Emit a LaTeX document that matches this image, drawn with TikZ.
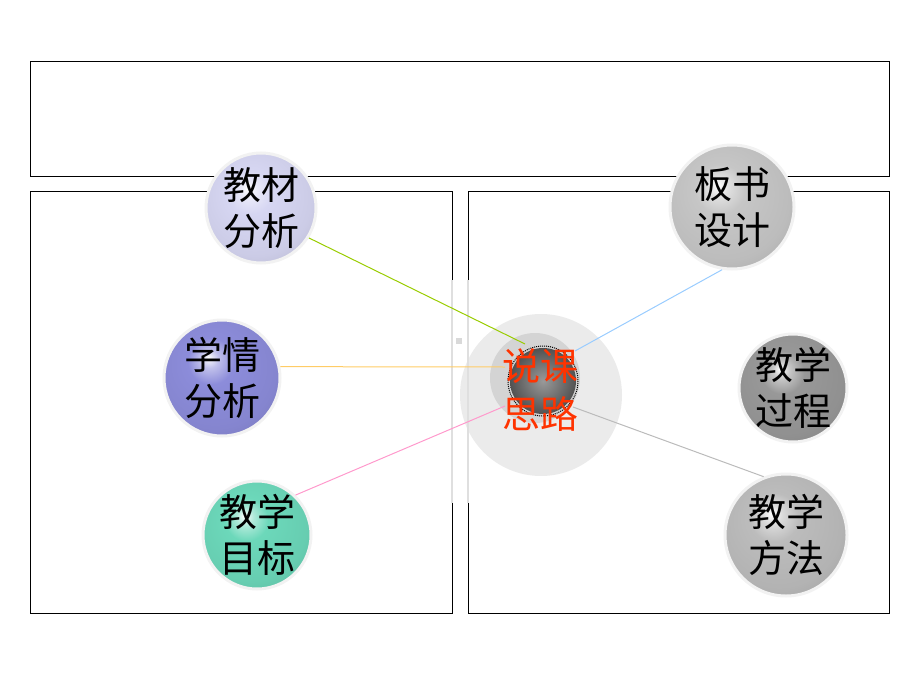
\documentclass[tikz,border=0pt]{standalone}
\usepackage{fontspec}
\newfontfamily\cjk{Noto Sans CJK SC}
\definecolor{balllav}{RGB}{214,214,242}
\definecolor{ballblue}{RGB}{140,140,218}
\definecolor{ballteal}{RGB}{108,216,186}
\definecolor{ballsilver}{RGB}{198,198,198}
\definecolor{balldark}{RGB}{152,152,152}
\definecolor{ballgrey}{RGB}{188,188,188}
\definecolor{hubred}{RGB}{255,51,0}
\definecolor{lgreen}{RGB}{153,204,0}
\definecolor{lorange}{RGB}{255,204,102}
\definecolor{lpink}{RGB}{255,153,204}
\definecolor{lblue}{RGB}{153,204,255}
\definecolor{lgrey}{RGB}{187,187,187}
\colorlet{gloss}{gray}
\pgfdeclareradialshading[gloss]{glossball}{\pgfpoint{-6bp}{9bp}}{%
  color(0bp)=(white); color(4bp)=(gloss!55!white); color(10bp)=(gloss);
  color(26bp)=(gloss!95!black); color(36bp)=(gloss!86!black); color(50bp)=(gloss!86!black)}

\begin{document}
\begin{tikzpicture}[x=1pt,y=-1pt,
  glosscol/.code={\colorlet{gloss}{#1}},
  ballnode/.style={circle, draw=black!5, line width=3, shading=glossball, glosscol=#1, inner sep=0},
  balltext/.style={font=\cjk\fontsize{38}{46}\selectfont, align=center, text=black},
  frame/.style={draw=black, line width=0.8}]
\useasboundingbox (0,0) rectangle (920,690);

% Hub backdrop
\fill[black!8] (541,395) circle (81);

% Frames
\draw[frame] (30,61) rectangle (889,176);
\draw[frame] (30,191) rectangle (452,613);
\draw[frame] (468,191) rectangle (889,613);
\draw[gray!25, line width=1.4] (452,280) -- (452,503);
\draw[gray!25, line width=1.4] (468,280) -- (468,503);
\fill[gray!30] (456,338) rectangle (462,344);

% Hub
\fill[black!17] (535,378) circle (45);

% Topic balls
\node[ballnode=balllav, minimum size=110, label={[balltext]center:教材\\分析}] (jcfx) at (261,208) {};
\node[ballnode=ballblue, minimum size=116, label={[balltext]center:学情\\分析}] (xqfx) at (222,378) {};
\node[ballnode=ballteal, minimum size=108, label={[balltext]center:教学\\目标}] (jxmb) at (257,535) {};
\node[ballnode=ballsilver, minimum size=124, label={[balltext]center:板书\\设计}] (bssj) at (732,207) {};
\node[ballnode=balldark, minimum size=108, label={[balltext]center:教学\\过程}] (jxgc) at (793,388) {};
\node[ballnode=ballgrey, minimum size=122, label={[balltext]center:教学\\方法}] (jxff) at (786,535) {};

% Spokes
\coordinate (egreen) at (525,344);
\coordinate (eorange) at (505,367);
\coordinate (epink) at (505,406);
\coordinate (eblue) at (575,351);
\coordinate (egrey) at (573,407);
\draw[lgreen, line width=1] (jcfx.-32) -- (egreen);
\draw[lorange, line width=1] (xqfx.11) -- (eorange);
\draw[lpink, line width=1] (jxmb.46) -- (epink);
\draw[lblue, line width=1] (bssj.-99) -- (eblue);
\draw[lgrey, line width=1] (jxff.111) -- (egrey);

% Center ball and title
\node[circle, inner sep=0, minimum size=66, shading=radial, inner color=black!40, outer color=black!68] (hub) at (543,381) {};
\draw[densely dotted, line width=1] (hub) circle (35);
\node[font=\cjk\fontsize{38}{48}\selectfont, align=center, text=hubred] (title) at (540,390) {说课\\思路};
\end{tikzpicture}
\end{document}
